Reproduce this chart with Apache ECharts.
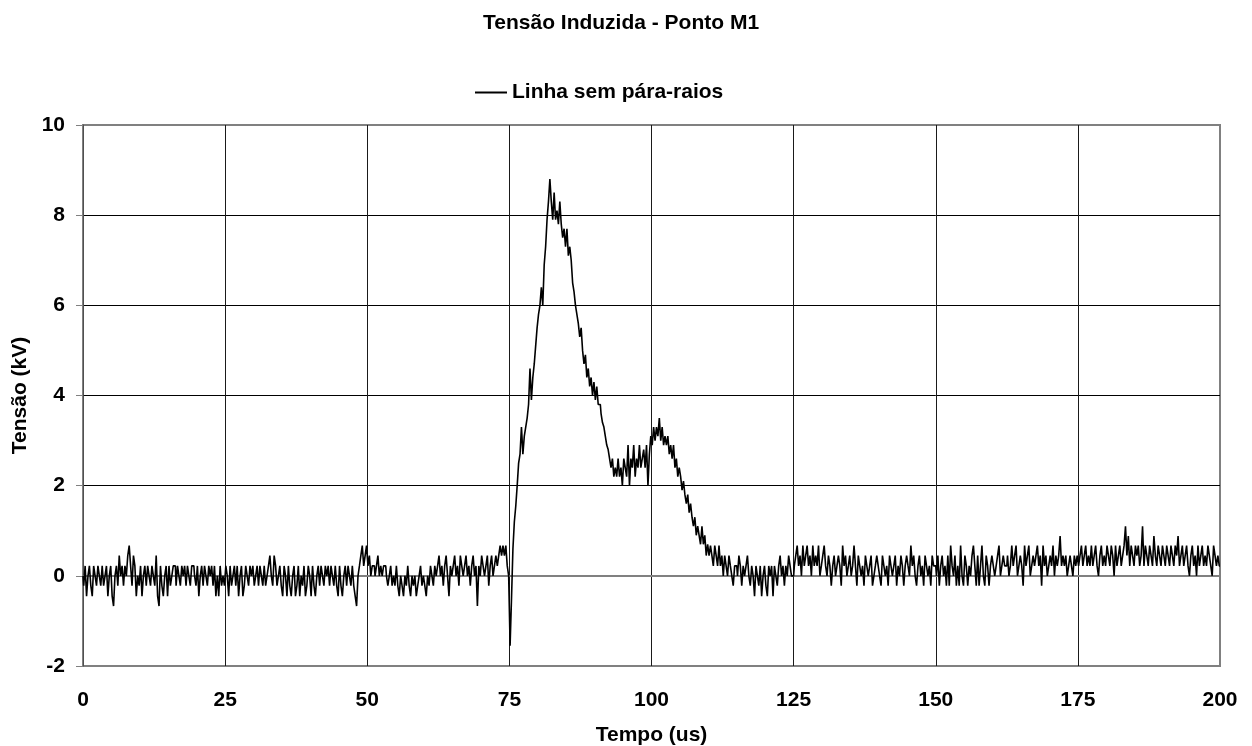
<!DOCTYPE html>
<html>
<head>
<meta charset="utf-8">
<script src="https://cdn.jsdelivr.net/npm/echarts@6/dist/echarts.min.js"></script>
<style>
  html, body { margin: 0; padding: 0; background: #fff; }
  #chart { width: 1252px; height: 746px; }
</style>
</head>
<body>
<div id="chart"></div>
<script>
// sample spacing of the recorded trace (us)
const DT = 0.25;

// Tensão (kV) in 25 us blocks, one value per 0.25 us
const seg000 = [
  0, -.22, .22, -.45, 0, .22, -.22, -.45, .22, 0,
  -.22, .22, 0, -.22, .22, -.22, 0, .22, -.45, 0,
  .22, -.45, -.67, 0, .22, -.22, .45, 0, .22, -.22,
  .22, 0, .45, .67, .22, -.22, .45, .22, -.45, 0,
  -.22, .22, -.45, 0, .22, -.22, .22, 0, -.22, .22,
  0, -.22, .45, -.45, -.67, .22, -.22, -.45, 0, .22,
  -.45, .22, -.22, 0, .22, .22, -.22, .22, 0, -.22,
  .22, 0, .22, -.22, .22, 0, -.22, .22, .22, 0,
  -.22, .22, -.45, 0, .22, -.22, .22, 0, -.22, .22,
  0, .22, -.22, .22, -.45, 0, -.45, .22, -.22, 0
];
const seg025 = [
  -.22, .22, 0, -.45, .22, -.22, 0, .22, -.22, .22,
  -.45, 0, .22, -.45, -.22, .22, 0, -.22, .22, 0,
  .22, -.22, 0, .22, -.22, .22, 0, -.22, .22, -.22,
  0, .22, .45, 0, -.22, .45, .22, -.22, 0, .22,
  -.22, -.45, .22, 0, -.45, .22, -.22, -.45, 0, .22,
  -.45, -.22, .22, -.45, 0, -.22, .22, -.45, -.22, .22,
  0, -.45, .22, -.22, -.45, 0, .22, -.22, .22, 0,
  -.22, .22, 0, .22, -.22, .22, 0, -.22, .22, -.22,
  -.45, .22, -.22, -.45, 0, .22, -.22, .22, 0, -.22,
  .22, -.22, -.45, -.67, 0, .22, .45, .67, .22, .45
];
const seg050 = [
  .67, .22, .45, 0, .22, .22, 0, .22, .45, 0,
  .22, 0, .22, .22, 0, -.22, 0, .22, -.22, 0,
  -.22, .22, -.22, -.45, 0, -.22, -.45, 0, -.22, .22,
  -.22, -.45, 0, -.22, 0, -.45, -.22, 0, .22, -.22,
  0, -.22, -.45, 0, -.22, .22, 0, -.22, .22, 0,
  .22, .45, 0, .22, -.22, .22, .45, 0, -.45, .22,
  0, .22, .45, 0, .22, -.22, .45, .22, 0, .22,
  .45, 0, .22, -.22, .22, .45, 0, .22, -.67, .22,
  0, .45, .22, 0, .22, .45, -.22, .22, .45, 0,
  .22, .45, .22, .45, .67, .45, .67, .45, .67, .22
];
const seg075 = [
  0, -1.55, -.5, .6, 1.2, 1.55, 2.0, 2.5, 2.7, 3.3,
  2.7, 3.1, 3.3, 3.5, 3.8, 4.6, 3.9, 4.4, 4.7, 5.1,
  5.5, 5.8, 6.0, 6.4, 6.0, 6.9, 7.3, 7.9, 8.3, 8.8,
  8.3, 7.9, 8.5, 7.9, 8.1, 7.8, 8.3, 7.8, 7.5, 7.7,
  7.3, 7.7, 7.1, 7.3, 7.0, 6.5, 6.3, 6.0, 5.8, 5.6,
  5.3, 5.5, 5.0, 4.7, 4.9, 4.4, 4.6, 4.2, 4.4, 4.0,
  4.3, 3.9, 4.2, 3.8, 3.8, 3.6, 3.4, 3.3, 3.1, 2.9,
  2.8, 2.6, 2.4, 2.6, 2.2, 2.4, 2.2, 2.6, 2.2, 2.4,
  2.0, 2.6, 2.4, 2.2, 2.9, 2.0, 2.6, 2.4, 2.9, 2.2,
  2.6, 2.4, 2.9, 2.4, 2.6, 2.8, 2.4, 2.9, 2.0, 2.7
];
const seg100 = [
  3.1, 2.9, 3.3, 3.0, 3.3, 3.1, 3.5, 3.0, 3.3, 2.9,
  3.1, 2.9, 3.1, 2.7, 2.9, 2.6, 2.9, 2.4, 2.6, 2.2,
  2.4, 2.2, 1.9, 2.1, 1.8, 1.6, 1.8, 1.4, 1.6, 1.3,
  1.1, 1.3, .9, 1.1, .9, .7, 1.1, .7, .9, .45,
  .7, .45, .67, .45, .22, .67, .45, .22, .67, .22,
  .45, 0, .45, .22, 0, .45, .22, 0, -.22, .22,
  .22, 0, .45, .22, -.22, .22, 0, .22, .45, 0,
  -.22, .22, 0, -.45, .22, 0, -.22, .22, -.45, 0,
  .22, -.22, -.45, .22, 0, .22, -.45, .22, 0, -.22,
  .22, .45, 0, .22, -.22, .22, 0, .45, .22, 0
];
const seg125 = [
  0, .22, .45, .67, .22, .45, 0, .67, .22, .45,
  .67, .22, .45, 0, .67, .22, .45, .22, .67, 0,
  .22, .45, .67, .22, 0, .45, .22, -.22, .22, .45,
  0, .22, .45, .22, -.22, .67, .22, .45, 0, .22,
  .45, 0, .22, .67, .22, -.22, .45, .22, 0, .22,
  -.22, .45, .22, 0, .22, .45, -.22, 0, .22, .45,
  .22, 0, -.22, .45, .22, 0, .22, -.22, .45, .22,
  0, .22, .45, -.22, .22, 0, .45, .22, -.22, .22,
  .45, .22, 0, .67, .22, .45, 0, -.22, .22, .45,
  0, .22, -.22, .45, .22, 0, .22, -.22, .45, .22
];
const seg150 = [
  .22, 0, .45, -.22, .22, .45, 0, .22, -.22, .45,
  -.22, .67, .22, 0, .45, -.22, .22, -.22, .67, 0,
  -.22, .45, .22, -.22, .22, 0, .45, .67, .22, -.22,
  .45, -.22, .22, .67, 0, -.22, .45, .22, -.22, .22,
  .45, .22, 0, .22, .45, .67, 0, .22, .45, .22,
  .22, .45, 0, .22, .67, .22, .45, .67, 0, .22,
  .45, .22, -.22, .67, .22, .45, .67, 0, .22, .45,
  .22, .45, .67, .22, .45, -.22, .67, .22, .45, 0,
  .22, .45, .22, .67, 0, .45, .22, .45, .88, .22,
  .45, .22, .45, 0, .22, .45, .22, 0, .45, .22
];
const seg175 = [
  .45, .22, .45, .67, .22, .45, .67, .22, .45, .22,
  .67, .22, .45, .67, .22, 0, .45, .67, .22, .45,
  .22, .67, .45, .22, .67, .45, 0, .67, .22, .45,
  .67, .22, .45, .67, 1.1, .45, .88, .22, .67, .45,
  .22, .67, .45, .67, .22, .45, 1.1, .22, .67, .45,
  .22, .67, .45, .22, .88, .45, .22, .67, .45, .22,
  .67, .45, .22, .67, .45, .22, .67, .45, .22, .67,
  .45, .88, .22, .45, .67, .22, .45, .67, .22, 0,
  .45, .67, .22, .45, 0, .67, .22, .45, .67, .22,
  .45, .22, .67, .45, .22, 0, .67, .45, .22, .45,
  .22
];

const xTicks = [0, 25, 50, 75, 100, 125, 150, 175, 200];
const yTicks = [-2, 0, 2, 4, 6, 8, 10];

const voltage = [].concat(seg000, seg025, seg050, seg075, seg100, seg125, seg150, seg175);
const points = voltage.map((v, i) => [i * DT, v]);

const FONT = '"Liberation Sans", Arial, sans-serif';
const textStyle = { fontFamily: FONT, fontSize: 21, fontWeight: 'bold', color: '#000' };
const chart = echarts.init(document.getElementById('chart'), null, { renderer: 'canvas' });

chart.setOption({
  animation: false,
  backgroundColor: '#fff',
  title: {
    text: 'Tensão Induzida - Ponto M1',
    left: 478,
    top: 8,
    textStyle: textStyle
  },
  legend: {
    data: ['Linha sem pára-raios'],
    left: 470,
    top: 77,
    icon: 'rect',
    itemWidth: 32,
    itemHeight: 2,
    itemGap: 5,
    textStyle: textStyle
  },
  grid: {
    left: 83, right: 32, top: 125, bottom: 80,
    containLabel: false,
    outerBoundsMode: 'none',
    show: true, borderColor: '#808080', borderWidth: 2
  },
  xAxis: {
    type: 'value',
    min: xTicks[0],
    max: xTicks[xTicks.length - 1],
    interval: 25,
    name: 'Tempo (us)',
    nameLocation: 'middle',
    nameGap: 59,
    nameTextStyle: textStyle,
    axisLine: { show: true, lineStyle: { color: '#808080', width: 2 } },
    axisTick: { show: false },
    axisLabel: Object.assign({ margin: 24 }, textStyle),
    splitLine: { show: true, showMinLine: false, showMaxLine: false, lineStyle: { color: '#1a1a1a', width: 1 } }
  },
  yAxis: {
    type: 'value',
    min: yTicks[0],
    max: yTicks[yTicks.length - 1],
    interval: 2,
    name: 'Tensão (kV)',
    nameLocation: 'middle',
    nameGap: 52,
    nameTextStyle: textStyle,
    axisLine: { show: true, lineStyle: { color: '#505050', width: 1 } },
    axisTick: { show: true, inside: false, length: 7, lineStyle: { color: '#808080', width: 1 } },
    axisLabel: Object.assign({ margin: 18 }, textStyle),
    splitLine: { show: true, showMinLine: false, showMaxLine: false, lineStyle: { color: '#000', width: 1 } }
  },
  series: [{
    name: 'Linha sem pára-raios',
    type: 'line',
    data: points,
    step: 'middle',
    showSymbol: false,
    symbol: 'none',
    color: '#000',
    lineStyle: { color: '#000', width: 1.6 },
    z: 5
  }]
});
</script>
</body>
</html>
